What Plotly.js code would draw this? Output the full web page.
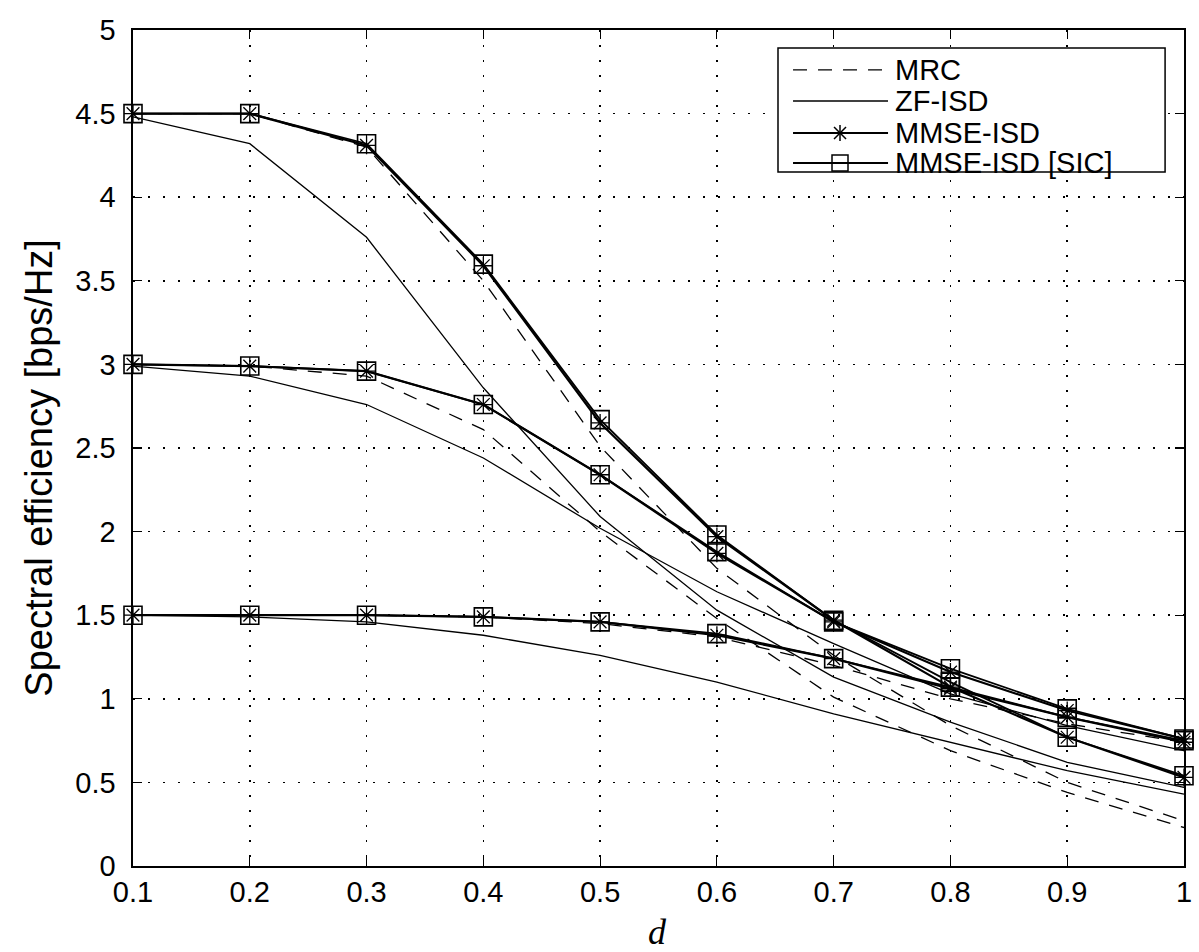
<!DOCTYPE html>
<html>
<head>
<meta charset="utf-8">
<script src="https://cdn.plot.ly/plotly-3.0.1.min.js"></script>
<style>html,body{margin:0;padding:0;background:#fff;}#chart{width:1199px;height:952px;}</style>
</head>
<body>
<div id="chart"></div>
<script>
const d = [0.1, 0.2, 0.3, 0.4, 0.5, 0.6, 0.7, 0.8, 0.9, 1.0];
const xTickText = ['0.1','0.2','0.3','0.4','0.5','0.6','0.7','0.8','0.9','1'];

// Group with 4.5 bps/Hz at low d
const mrcA   = [4.50, 4.50, 4.30, 3.50, 2.51, 1.78, 1.26, 0.84, 0.50, 0.27];
const zfA    = [4.48, 4.32, 3.76, 2.86, 2.09, 1.53, 1.13, 0.86, 0.62, 0.47];
const mmseA  = [4.50, 4.50, 4.31, 3.59, 2.65, 1.97, 1.47, 1.07, 0.77, 0.53];
const sicA   = [4.50, 4.50, 4.32, 3.60, 2.67, 1.98, 1.47, 1.10, 0.77, 0.54];

// Group with 3 bps/Hz at low d
const mrcB   = [3.00, 2.99, 2.93, 2.61, 2.00, 1.48, 1.01, 0.69, 0.44, 0.23];
const zfB    = [2.99, 2.93, 2.76, 2.44, 2.02, 1.64, 1.33, 1.03, 0.84, 0.69];
const mmseB  = [3.00, 2.99, 2.96, 2.76, 2.34, 1.87, 1.46, 1.16, 0.93, 0.76];
const sicB   = [3.00, 2.99, 2.96, 2.76, 2.34, 1.88, 1.46, 1.18, 0.94, 0.76];

// Group with 1.5 bps/Hz at low d
const mrcC   = [1.50, 1.50, 1.50, 1.49, 1.45, 1.37, 1.20, 1.00, 0.85, 0.74];
const zfC    = [1.50, 1.49, 1.46, 1.38, 1.26, 1.10, 0.91, 0.74, 0.57, 0.43];
const mmseC  = [1.50, 1.50, 1.50, 1.49, 1.46, 1.38, 1.24, 1.06, 0.89, 0.74];
const sicC   = [1.50, 1.50, 1.50, 1.49, 1.46, 1.39, 1.24, 1.07, 0.89, 0.75];

const names = ['MRC', 'ZF-ISD', 'MMSE-ISD', 'MMSE-ISD [SIC]'];
const DASH = '14px,11px';

function mk(y, kind) {
  const t = {x: d, y: y, type: 'scatter', name: names[kind], showlegend: false, cliponaxis: false};
  if (kind === 0) {
    t.mode = 'lines';
    t.line = {color: '#000', width: 1.3, dash: DASH};
  } else if (kind === 1) {
    t.mode = 'lines';
    t.line = {color: '#000', width: 1.3};
  } else if (kind === 2) {
    t.mode = 'lines+markers';
    t.line = {color: '#000', width: 2.2};
    t.marker = {symbol: 'asterisk-open', size: 15, color: '#000', line: {color: '#000', width: 1.3}};
  } else {
    t.mode = 'lines+markers';
    t.line = {color: '#000', width: 1.8};
    t.marker = {symbol: 'square-open', size: 18, color: '#000', line: {color: '#000', width: 1.6}};
  }
  return t;
}

const data = [
  mk(mrcA, 0), mk(zfA, 1), mk(mmseA, 2), mk(sicA, 3),
  mk(mrcB, 0), mk(zfB, 1), mk(mmseB, 2), mk(sicB, 3),
  mk(mrcC, 0), mk(zfC, 1), mk(mmseC, 2), mk(sicC, 3)
];

// ---- custom legend (paper coordinates) ----
const L = {x0: 0.6137, x1: 0.982, y0: 0.830, y1: 0.9785,
           lx0: 0.628, lx1: 0.7184, mx: 0.6727, tx: 0.7231,
           rows: [0.9522, 0.9151, 0.8768, 0.8409]};
const pxX = 1 / 1051, pxY = 1 / 836;
const shapes = [];
const annotations = [];
shapes.push({type: 'rect', xref: 'paper', yref: 'paper', x0: L.x0, x1: L.x1, y0: L.y0, y1: L.y1,
             fillcolor: '#fff', line: {color: '#000', width: 1.5}, layer: 'above'});
L.rows.forEach((ry, i) => {
  shapes.push({type: 'line', xref: 'paper', yref: 'paper', x0: L.lx0, x1: L.lx1, y0: ry, y1: ry,
               line: {color: '#000', width: i >= 2 ? 2 : 1.3, dash: i === 0 ? DASH : 'solid'}, layer: 'above'});
  annotations.push({xref: 'paper', yref: 'paper', x: L.tx, y: ry, xanchor: 'left', yanchor: 'middle',
                    text: names[i], showarrow: false,
                    font: {family: 'Liberation Sans, Arial, sans-serif', size: 29, color: '#000'}});
});
// asterisk glyph
{
  const cx = L.mx, cy = L.rows[2], r = 8, rd = 6;
  const segs = [[0, r, 0, -r], [-rd, rd, rd, -rd], [-rd, -rd, rd, rd], [-r, 0, r, 0]];
  segs.forEach(s => shapes.push({type: 'line', xref: 'paper', yref: 'paper',
    x0: cx + s[0] * pxX, y0: cy + s[1] * pxY, x1: cx + s[2] * pxX, y1: cy + s[3] * pxY,
    line: {color: '#000', width: 1.5}, layer: 'above'}));
}
// square glyph
{
  const cx = L.mx, cy = L.rows[3], h = 8;
  shapes.push({type: 'rect', xref: 'paper', yref: 'paper',
    x0: cx - h * pxX, x1: cx + h * pxX, y0: cy - h * pxY, y1: cy + h * pxY,
    fillcolor: 'rgba(0,0,0,0)', line: {color: '#000', width: 1.5}, layer: 'above'});
}

// axis titles as annotations
annotations.push({xref: 'paper', yref: 'paper', x: -0.089, y: 0.477, xanchor: 'center', yanchor: 'middle',
  textangle: -90, showarrow: false, text: 'Spectral efficiency [bps/Hz]',
  font: {family: 'Liberation Sans, Arial, sans-serif', size: 38, color: '#000'}});
annotations.push({xref: 'paper', yref: 'paper', x: 0.499, y: -0.079, xanchor: 'center', yanchor: 'middle',
  showarrow: false, text: '<i>d</i>',
  font: {family: 'Liberation Serif, Times New Roman, serif', size: 36, color: '#000'}});

const tickFont = {family: 'Liberation Sans, Arial, sans-serif', size: 29, color: '#000'};
const GRID = '2px,13px';

const layout = {
  width: 1199, height: 952,
  paper_bgcolor: '#fff', plot_bgcolor: '#fff',
  margin: {l: 133, r: 15, t: 30, b: 86},
  showlegend: false,
  shapes: shapes,
  annotations: annotations,
  xaxis: {
    range: [0.1, 1.0], tickvals: d, ticktext: xTickText,
    ticks: 'inside', ticklen: 9, tickcolor: '#000', tickwidth: 1.2,
    showline: true, linecolor: '#000', linewidth: 1.6, mirror: 'ticks',
    showgrid: true, gridcolor: '#000', griddash: GRID, gridwidth: 1.5,
    zeroline: false, tickfont: tickFont, ticklabelstandoff: 0
  },
  yaxis: {
    range: [0, 5], dtick: 0.5, tick0: 0,
    ticks: 'inside', ticklen: 9, tickcolor: '#000', tickwidth: 1.2,
    showline: true, linecolor: '#000', linewidth: 1.6, mirror: 'ticks',
    showgrid: true, gridcolor: '#000', griddash: GRID, gridwidth: 1.5,
    zeroline: false, tickfont: tickFont, ticklabelstandoff: 10
  }
};

Plotly.newPlot('chart', data, layout, {staticPlot: true});
</script>
</body>
</html>
